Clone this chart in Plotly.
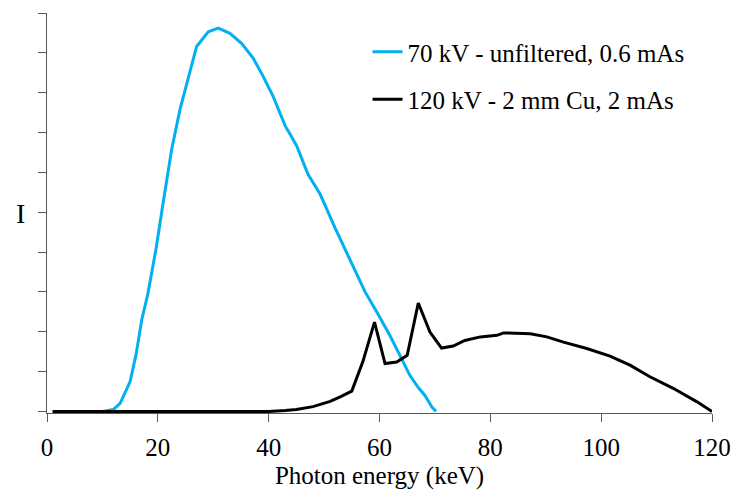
import plotly.graph_objects as go

# 70 kV unfiltered spectrum (relative intensity)
blue_kev = [10, 12, 13.2, 15, 16.1, 17.1, 18.2, 19.7, 20.8, 22.5, 24, 25.2, 27, 29.1, 30.9,
            33, 35.1, 37.2, 39, 40.8, 43, 43.9, 45.1, 47.1, 49.3, 52, 54.7, 57.4, 59.7,
            61.9, 63.7, 65.5, 67, 68.2, 69.5, 70.2]
blue_i = [0, 0.05, 0.2, 0.75, 1.45, 2.3, 2.95, 4.1, 5.1, 6.58, 7.58, 8.24, 9.16, 9.53, 9.62,
          9.49, 9.24, 8.87, 8.41, 7.91, 7.16, 6.95, 6.65, 5.95, 5.45, 4.6, 3.8, 3.0, 2.45,
          1.9, 1.4, 0.9, 0.6, 0.4, 0.1, 0]

# 120 kV, 2 mm Cu spectrum
black_kev = [1, 40, 43, 45, 48, 50, 51.1, 53, 55, 57, 59.1, 61, 63.1, 65, 67, 69.1, 71.2,
             73.3, 75.4, 78.2, 81.2, 82.4, 87.2, 90.2, 93.2, 97.4, 101.6, 105.2, 108.8,
             113, 117.3, 120]
black_i = [0, 0, 0.02, 0.05, 0.12, 0.2, 0.25, 0.37, 0.51, 1.25, 2.24, 1.2, 1.24, 1.41, 2.72,
           1.99, 1.59, 1.64, 1.78, 1.87, 1.91, 1.97, 1.95, 1.87, 1.74, 1.58, 1.39, 1.16,
           0.87, 0.58, 0.24, 0]

x_ticks = [0, 20, 40, 60, 80, 100, 120]
names = ["70 kV - unfiltered, 0.6 mAs", "120 kV - 2 mm Cu, 2 mAs"]

FONT = "Liberation Serif"

fig = go.Figure()
fig.add_trace(go.Scatter(x=blue_kev, y=blue_i, mode="lines", name=names[0],
                         line=dict(color="#00B0F0", width=3), legendgroup="a", legendrank=1))
fig.add_trace(go.Scatter(x=black_kev, y=black_i, mode="lines", name=names[1],
                         line=dict(color="#000000", width=3), legendgroup="b", legendrank=2))

fig.update_layout(
    width=731, height=490,
    margin=dict(l=47, r=19, t=13, b=77, autoexpand=False),
    paper_bgcolor="white", plot_bgcolor="white",
    font=dict(family=FONT, size=25, color="black"),
    showlegend=True,
    legend=dict(x=0.482, y=0.96, xanchor="left", yanchor="top",
                bgcolor="rgba(0,0,0,0)", tracegroupgap=12,
                font=dict(family=FONT, size=25)),
    xaxis=dict(range=[0, 120], tickvals=x_ticks, ticks="outside", ticklen=8,
               tickcolor="#595959", showline=True, linecolor="#595959", linewidth=1,
               showgrid=False, zeroline=False, layer="below traces", automargin=False,
               ticklabelstandoff=4,
               tickfont=dict(family=FONT, size=25),
               title=dict(text="Photon energy (keV)", font=dict(family=FONT, size=25), standoff=11)),
    yaxis=dict(range=[-0.04, 10], tick0=0, dtick=1, ticks="outside", ticklen=8,
               tickcolor="#595959", showline=True, linecolor="#595959", linewidth=1,
               showgrid=False, zeroline=False, showticklabels=False, layer="below traces",
               automargin=False),
    annotations=[dict(text="I", xref="paper", yref="paper", x=-0.04, y=0.5,
                      xanchor="center", yanchor="middle", showarrow=False,
                      font=dict(family=FONT, size=28))],
)

fig.write_html("out.html")
